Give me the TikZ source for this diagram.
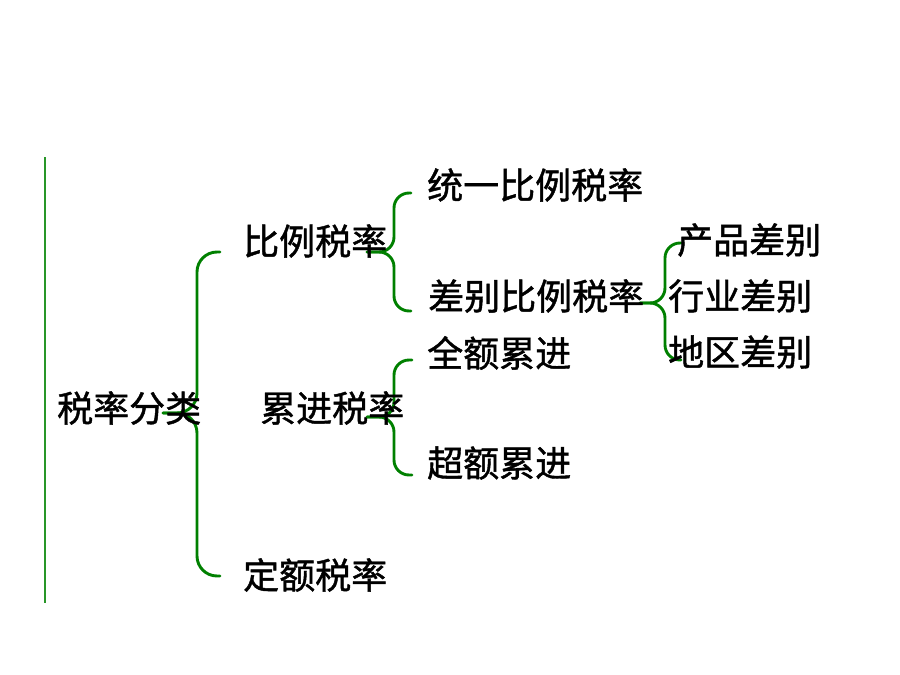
\documentclass[tikz,border=0pt]{standalone}
\usepackage{fontspec}
\newfontfamily\cjk[FakeBold=1.2]{Noto Sans CJK SC}
\definecolor{brgreen}{RGB}{0,128,0}
\definecolor{lngreen}{RGB}{40,150,40}
\tikzset{
  lbl/.style={anchor=west, inner sep=0pt, font=\cjk\fontsize{36}{40}\selectfont, text=black},
  brace/.style={draw=brgreen, line width=2.9pt, line cap=round, line join=round},
}
% \cbrace{tipx}{tipy}{spinex}{topy}{boty}{endx}{radius}
\newcommand\cbrace[7]{%
  \draw[brace, rounded corners=#7pt] (#6,#4) -- (#3,#4) -- (#3,#2) -- (#1,#2);
  \draw[brace, rounded corners=#7pt] (#6,#5) -- (#3,#5) -- (#3,#2) -- (#1,#2);
}
\begin{document}
\begin{tikzpicture}[x=1pt,y=-1pt]
\useasboundingbox (0,0) rectangle (900,675);
\fill[white] (0,0) rectangle (900,675);
% left vertical line
\coordinate (ltop) at (45,157);
\coordinate (lbot) at (45,603);
\draw[lngreen, line width=1.4pt] (ltop) -- (lbot);
% braces
\cbrace{163}{413}{197}{252}{576}{220}{20}
\cbrace{367}{252}{394}{193}{311}{411}{15}
\cbrace{367}{417}{394}{360}{475}{412}{15}
\cbrace{640}{303}{665}{243}{360}{681}{15}
% texts
\node[lbl] (root) at (57,408) {税率分类};
\node[lbl] (bl) at (243,241) {比例税率};
\node[lbl] (lj) at (260,408) {累进税率};
\node[lbl] (de) at (243,575) {定额税率};
\node[lbl] (ty) at (427,185) {统一比例税率};
\node[lbl] (cb) at (428,296) {差别比例税率};
\node[lbl] (qe) at (427,353) {全额累进};
\node[lbl] (ce) at (427,463) {超额累进};
\node[lbl] (cp) at (677,240) {产品差别};
\node[lbl] (hy) at (668,296) {行业差别};
\node[lbl] (dq) at (668,352) {地区差别};
\end{tikzpicture}
\end{document}
